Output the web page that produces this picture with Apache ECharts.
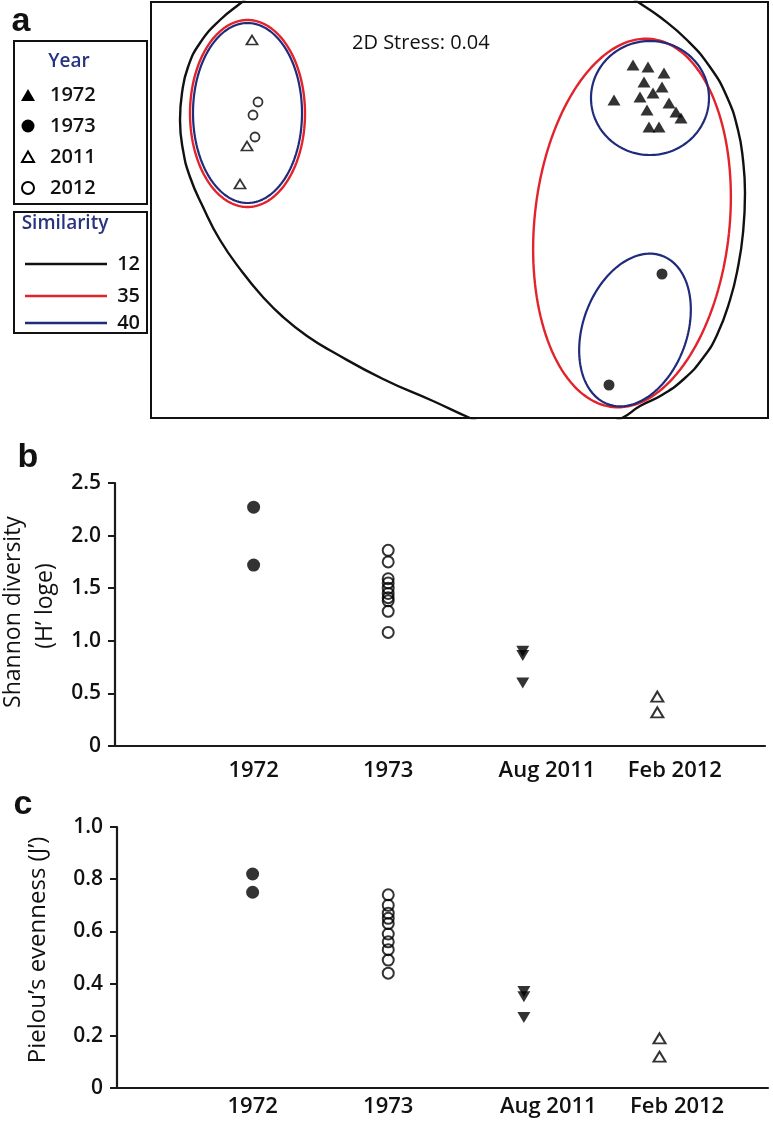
<!DOCTYPE html>
<html><head><meta charset="utf-8">
<script src="https://cdn.jsdelivr.net/npm/echarts@6/dist/echarts.min.js"></script>
<style>html,body{margin:0;padding:0;background:#fff}#c{width:773px;height:1124px}</style>
</head><body><div id="c"></div>
<script>
// ---------- Panel a : nMDS ordination (arbitrary MDS units) ----------
const mds1972 = [[1.74,1.45],[1.89,1.43],[2.05,1.37],[1.85,1.28],[2.03,1.23],[1.94,1.17],[1.81,1.13],
                 [1.55,1.10],[2.10,1.07],[1.88,1.00],[2.17,0.98],[2.22,0.92],[1.90,0.83],[2.00,0.83]];
const mds1973 = [[2.03,-0.64],[1.50,-1.75]];
const mds2011 = [[-2.07,1.70],[-2.12,0.64],[-2.19,0.26]];
const mds2012 = [[-2.01,1.08],[-2.06,0.95],[-2.04,0.73]];
// similarity 12% contour (outline points in MDS space)
const contour12 = [[0.11,2.90],[0.81,2.72],[1.31,2.38],[1.56,2.24],[1.79,2.08],[2.01,1.93],[2.28,1.70],
  [2.51,1.43],[2.68,1.13],[2.79,0.80],[2.84,0.50],[2.86,0.17],[2.84,-0.23],[2.79,-0.57],[2.71,-0.90],
  [2.58,-1.25],[2.44,-1.48],[2.26,-1.68],[2.03,-1.85],[1.81,-1.96],[1.63,-2.08],[1.26,-2.23],[0.86,-2.30],
  [0.46,-2.22],[0.11,-2.08],[-0.26,-1.91],[-0.76,-1.69],[-1.26,-1.42],[-1.52,-1.26],[-1.76,-1.07],
  [-1.97,-0.86],[-2.16,-0.63],[-2.39,-0.30],[-2.56,0.03],[-2.69,0.33],[-2.76,0.60],[-2.79,0.90],[-2.77,1.17],
  [-2.71,1.43],[-2.59,1.67],[-2.39,1.90],[-2.17,2.08],[-1.94,2.27],[-1.59,2.50],[-0.79,2.75],[0.11,2.90]];
// ellipses: [centreX, centreY, semiAxisX, semiAxisY, rotationDeg]
const ellipses35 = [[-2.115,0.965,0.575,0.935,0],[1.73,-0.13,0.975,1.85,-6]];
const ellipses40 = [[-2.115,0.97,0.545,0.90,0],[1.91,1.12,0.59,0.57,0],[1.76,-1.20,0.52,0.79,-20]];

// ---------- Panels b, c ----------
const categories = ['1972','1973','Aug 2011','Feb 2012'];
const shannon1972 = [2.27,1.72];
const shannon1973 = [1.86,1.75,1.59,1.55,1.50,1.45,1.41,1.38,1.28,1.08];
const shannonAug2011 = [0.90,0.86,0.60];
const shannonFeb2012 = [0.47,0.32];
const even1972 = [0.82,0.75];
const even1973 = [0.74,0.70,0.67,0.65,0.63,0.59,0.56,0.53,0.49,0.44];
const evenAug2011 = [0.37,0.35,0.27];
const evenFeb2012 = [0.19,0.12];

// layout helpers (not data)
const catX = [1,2,3,4];
const catLabelX = [1,2,3.18,4.13];
const FONT = "'Open Sans','Noto Sans',sans-serif";
const RED = '#e3232b', NAVY = '#1f2b7b', NAVYTXT = '#27337f';

function ellipsePts(e){
  const [cx,cy,rx,ry,rd] = e, t = rd*Math.PI/180, out=[];
  for(let i=0;i<=160;i++){
    const p = 2*Math.PI*i/160;
    out.push([cx + rx*Math.cos(p)*Math.cos(t) - ry*Math.sin(p)*Math.sin(t),
              cy + rx*Math.cos(p)*Math.sin(t) + ry*Math.sin(p)*Math.cos(t)]);
  }
  return out;
}
const pair = (vals, k) => vals.map(v => [catX[k], v]);

const series = [];
series.push({type:'line', xAxisIndex:0, yAxisIndex:0, data:contour12, smooth:0.5, symbol:'none',
  clip:true, lineStyle:{color:'#111', width:2.4}, z:2, silent:true});
ellipses35.forEach(e=>series.push({type:'line', xAxisIndex:0, yAxisIndex:0, data:ellipsePts(e), symbol:'none',
  clip:true, lineStyle:{color:RED, width:2.4}, z:3, silent:true}));
ellipses40.forEach(e=>series.push({type:'line', xAxisIndex:0, yAxisIndex:0, data:ellipsePts(e), symbol:'none',
  clip:true, lineStyle:{color:NAVY, width:2.2}, z:4, silent:true}));
const filled = {color:'#000'};
const open = {color:'rgba(0,0,0,0)', borderColor:'#000', borderWidth:1.8};
series.push({type:'scatter', xAxisIndex:0, yAxisIndex:0, data:mds1972, symbol:'triangle', symbolSize:[13,11], itemStyle:filled, z:5});
series.push({type:'scatter', xAxisIndex:0, yAxisIndex:0, data:mds1973, symbol:'circle', symbolSize:11, itemStyle:filled, z:5});
series.push({type:'scatter', xAxisIndex:0, yAxisIndex:0, data:mds2011, symbol:'triangle', symbolSize:[11,9], itemStyle:open, z:5});
series.push({type:'scatter', xAxisIndex:0, yAxisIndex:0, data:mds2012, symbol:'circle', symbolSize:9, itemStyle:open, z:5});

[[shannon1972,shannon1973,shannonAug2011,shannonFeb2012,1],[even1972,even1973,evenAug2011,evenFeb2012,2]].forEach(g=>{
  const ai = g[4];
  series.push({type:'scatter', xAxisIndex:ai, yAxisIndex:ai, data:pair(g[0],0), symbol:'circle', symbolSize:13, itemStyle:filled});
  series.push({type:'scatter', xAxisIndex:ai, yAxisIndex:ai, data:pair(g[1],1), symbol:'circle', symbolSize:11, itemStyle:{color:'rgba(0,0,0,0)', borderColor:'#000', borderWidth:2}});
  series.push({type:'scatter', xAxisIndex:ai, yAxisIndex:ai, data:pair(g[2],2), symbol:'triangle', symbolRotate:180, symbolSize:[13,11], itemStyle:filled});
  series.push({type:'scatter', xAxisIndex:ai, yAxisIndex:ai, data:pair(g[3],3), symbol:'triangle', symbolSize:[12,10], itemStyle:{color:'rgba(0,0,0,0)', borderColor:'#000', borderWidth:2}});
});

const tickLab = {color:'#111', fontFamily:FONT, fontWeight:600, fontSize:21, margin:14,
  formatter: v => v === 0 ? '0' : v.toFixed(1)};
const catLab = m => ({color:'#111', fontFamily:FONT, fontWeight:600, fontSize:22, margin:m,
  customValues:catLabelX, formatter: v => { const i = catLabelX.indexOf(v); return i>=0 ? categories[i] : ''; }});
const axLine = {show:true, onZero:false, lineStyle:{color:'#1a1a1a', width:2.2}};

function txt(x,y,text,opt){
  opt = opt || {};
  return {type:'text', x:x, y:y, rotation:opt.rot||0, z:10, style:{text:text, x:0, y:0,
    font:(opt.w||'normal')+' '+(opt.s||20)+'px '+(opt.f||FONT), fill:opt.c||'#111',
    align:opt.a||'center', textAlign:opt.a||'center', verticalAlign:'middle', textVerticalAlign:'middle'}};
}
const graphics = [
  txt(21,22,'a',{w:'bold',s:34,f:"'Liberation Sans',Arial,sans-serif"}),
  txt(28,458,'b',{w:'bold',s:34,f:"'Liberation Sans',Arial,sans-serif"}),
  txt(23,805,'c',{w:'bold',s:34,f:"'Liberation Sans',Arial,sans-serif"}),
  {type:'rect', shape:{x:14,y:41,width:133,height:163}, style:{fill:'#fff', stroke:'#111', lineWidth:2}, z:9},
  txt(69,62,'Year',{w:600,s:19,c:NAVYTXT}),
  {type:'polygon', shape:{points:[[21,101],[35,101],[28,89]]}, style:{fill:'#000'}, z:10},
  {type:'circle', shape:{cx:28,cy:126,r:6.5}, style:{fill:'#000'}, z:10},
  {type:'polygon', shape:{points:[[22,162],[34,162],[28,151.5]]}, style:{fill:'none', stroke:'#000', lineWidth:2}, z:10},
  {type:'circle', shape:{cx:28,cy:188,r:6}, style:{fill:'none', stroke:'#000', lineWidth:2}, z:10},
  txt(50,95,'1972',{w:600,s:20,a:'left'}),
  txt(50,126,'1973',{w:600,s:20,a:'left'}),
  txt(50,157,'2011',{w:600,s:20,a:'left'}),
  txt(50,188,'2012',{w:600,s:20,a:'left'}),
  {type:'rect', shape:{x:14,y:212,width:133,height:121}, style:{fill:'#fff', stroke:'#111', lineWidth:2}, z:9},
  txt(65,224,'Similarity',{w:600,s:19,c:NAVYTXT}),
  {type:'line', shape:{x1:25,y1:264,x2:107,y2:264}, style:{stroke:'#111', lineWidth:2.5}, z:10},
  {type:'line', shape:{x1:25,y1:296,x2:107,y2:296}, style:{stroke:RED, lineWidth:2.5}, z:10},
  {type:'line', shape:{x1:25,y1:323,x2:107,y2:323}, style:{stroke:NAVY, lineWidth:2.5}, z:10},
  txt(140,264,'12',{w:600,s:20,a:'right'}),
  txt(140,296,'35',{w:600,s:20,a:'right'}),
  txt(140,323,'40',{w:600,s:20,a:'right'}),
  txt(352,43,'2D Stress: 0.04',{s:20,a:'left'}),
  txt(13,612,'Shannon diversity',{s:23,rot:Math.PI/2}),
  txt(45,606,'(H\u2019 loge)',{s:23,rot:Math.PI/2}),
  txt(38,950,'Pielou\u2019s evenness (J\u2019)',{s:24,rot:Math.PI/2})
];

const option = {
  animation:false,
  backgroundColor:'#fff',
  grid:[
    {left:151, top:2, width:617, height:416, show:true, borderColor:'#111', borderWidth:2, backgroundColor:'#fff'},
    {left:115, top:483, width:650, height:263},
    {left:117, top:827, width:651, height:261}
  ],
  xAxis:[
    {gridIndex:0, type:'value', min:-3.08, max:3.09, show:false},
    {gridIndex:1, type:'value', min:-0.03, max:4.8, axisLine:axLine, axisTick:{show:false}, splitLine:{show:false}, axisLabel:catLab(14)},
    {gridIndex:2, type:'value', min:0, max:4.8, axisLine:axLine, axisTick:{show:false}, splitLine:{show:false}, axisLabel:catLab(8)}
  ],
  yAxis:[
    {gridIndex:0, type:'value', min:-2.08, max:2.08, show:false},
    {gridIndex:1, type:'value', min:0, max:2.5, interval:0.5, axisLine:axLine,
      axisTick:{show:true, length:7, lineStyle:{width:2, color:'#1a1a1a'}}, splitLine:{show:false}, axisLabel:tickLab},
    {gridIndex:2, type:'value', min:0, max:1, interval:0.2, axisLine:axLine,
      axisTick:{show:true, length:7, lineStyle:{width:2, color:'#1a1a1a'}}, splitLine:{show:false}, axisLabel:tickLab}
  ],
  graphic:{elements:graphics},
  series:series
};
const chart = echarts.init(document.getElementById('c'), null, {renderer:'canvas'});
chart.setOption(option);
</script></body></html>
